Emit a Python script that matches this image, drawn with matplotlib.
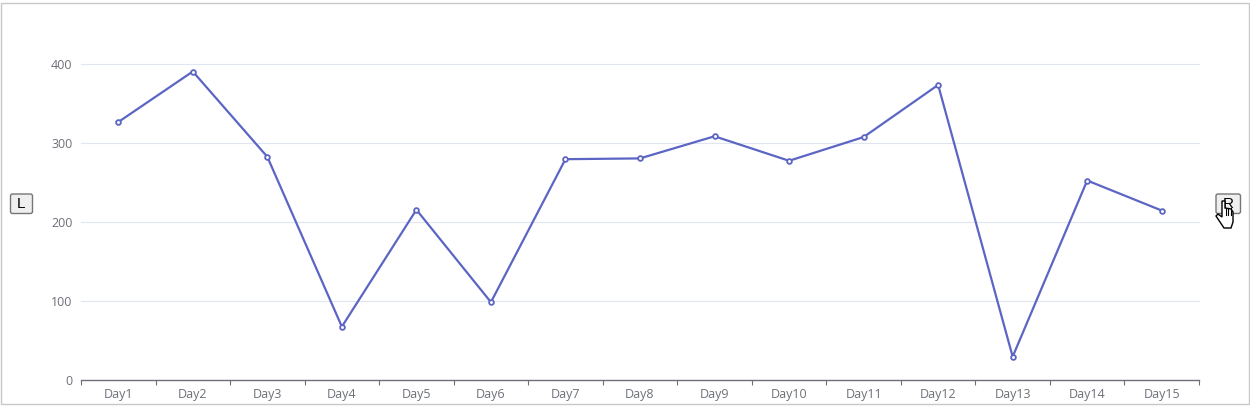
import matplotlib
matplotlib.use("Agg")
import matplotlib.pyplot as plt
from matplotlib.patches import FancyBboxPatch, Rectangle, Polygon

W, H = 1250, 412

days = ["Day1", "Day2", "Day3", "Day4", "Day5", "Day6", "Day7", "Day8",
        "Day9", "Day10", "Day11", "Day12", "Day13", "Day14", "Day15"]
values = [326, 390, 282, 67, 215, 98, 279, 280, 308, 277, 307, 373, 29, 252, 214]
y_ticks = [0, 100, 200, 300, 400]

plt.rcParams["font.family"] = ["Open Sans", "DejaVu Sans"]

fig = plt.figure(figsize=(W / 100, H / 100), dpi=100)
# full figure overlay in pixel coords, y flipped like a screenshot
bg = fig.add_axes([0, 0, 1, 1])
bg.set_xlim(0, W)
bg.set_ylim(H, 0)
bg.axis("off")

bg.add_patch(Rectangle((1, 3), 1248, 401, fc="white", ec="#c8c8c8", lw=1))

# plot area
left, right, top, bottom = 81, 1199, 63.6, 379.6
ax = fig.add_axes([left / W, 1 - bottom / H, (right - left) / W, (bottom - top) / H])
ax.patch.set_alpha(0)
x = list(range(len(days)))
ax.set_xlim(-0.5, len(days) - 0.5)
ax.set_ylim(0, 400)

ax.plot(x, values, color="#5b65c4", lw=1.6, marker="o", ms=3.4, mfc="white",
        mec="#5b65c4", mew=1.3, clip_on=False, zorder=5)

for t in y_ticks[1:]:
    ax.axhline(t, color="#e0e6f1", lw=0.8, zorder=1, clip_on=False)

for s in ["top", "left", "right"]:
    ax.spines[s].set_visible(False)
ax.spines["bottom"].set_color("#6e7079")
ax.spines["bottom"].set_linewidth(1)

ax.set_yticks(y_ticks)
ax.tick_params(axis="y", length=0, pad=6, labelsize=9, labelcolor="#6e7079")
ax.set_xticks([i - 0.5 for i in range(len(days) + 1)], minor=False)
ax.set_xticklabels([""] * (len(days) + 1))
ax.tick_params(axis="x", length=3.6, width=0.8, color="#6e7079")
ax.set_xticks(x, minor=True)
ax.set_xticklabels(days, minor=True)
ax.tick_params(axis="x", which="minor", length=0, pad=6, labelsize=9, labelcolor="#6e7079")


def button(x0, y0, w, h, label):
    bg.add_patch(FancyBboxPatch((x0, y0), w, h, boxstyle="round,pad=0,rounding_size=2",
                                fc="#efefef", ec="#767676", lw=1, zorder=2))
    bg.text(x0 + w / 2, y0 + h / 2 + 0.5, label, ha="center", va="center",
            fontsize=11, color="black", family=["Liberation Sans"], zorder=3)


button(10.5, 194, 22, 19.5, "L")
button(1216, 194, 24.5, 19.5, "R")

# mouse pointer over the R button
hand = [(1222, 201), (1225, 201), (1225, 208), (1231, 209), (1233, 212), (1233, 222),
        (1231, 228), (1224, 228), (1220, 222), (1216, 216), (1218, 214), (1222, 217)]
bg.add_patch(Polygon(hand, closed=True, fc="white", ec="black", lw=1, zorder=4))
for hx in (1225.5, 1228, 1230.5):
    bg.plot([hx, hx], [208, 215], color="black", lw=0.8, zorder=5)

fig.savefig("out.png", dpi=100)
